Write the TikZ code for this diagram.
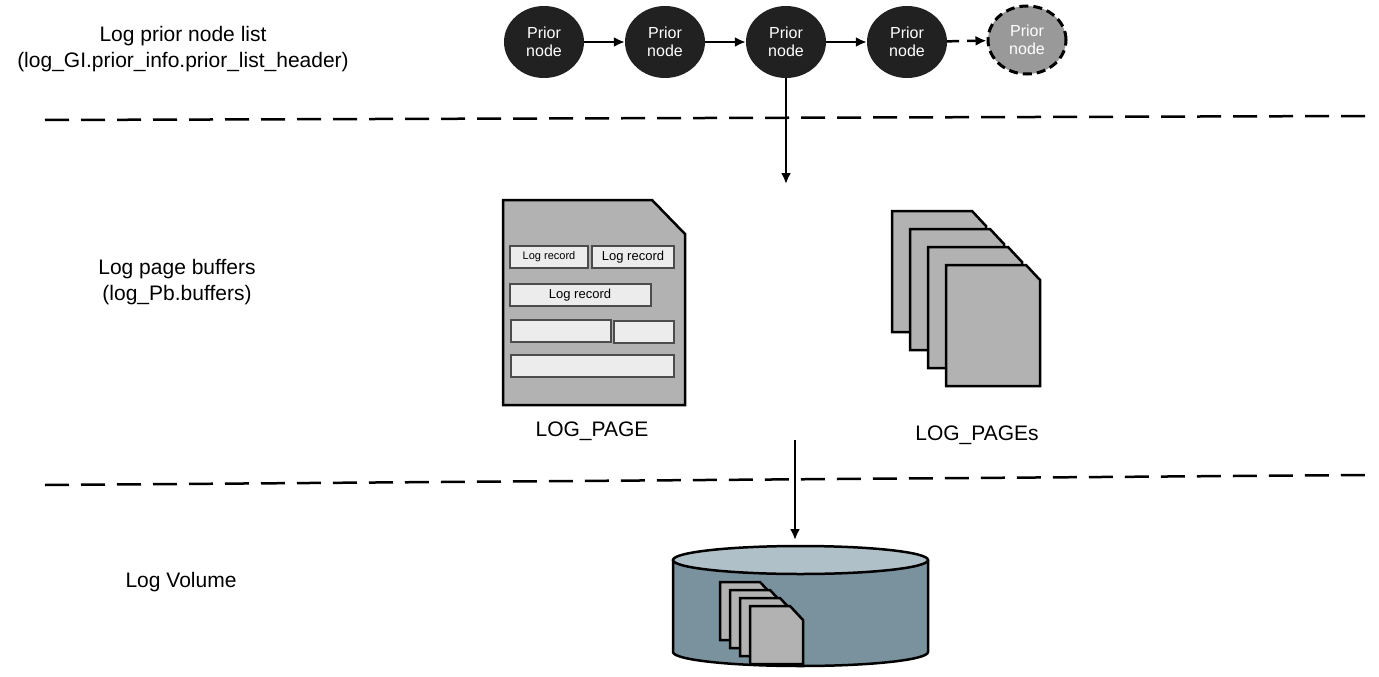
\documentclass[tikz,border=0pt]{standalone}
\usepackage{fontspec}
\setmainfont{Liberation Sans}
\usetikzlibrary{arrows.meta,shapes.geometric}
\begin{document}
\begin{tikzpicture}[x=1pt,y=-1pt,
  lbl/.style={font=\fontsize{21}{26}\selectfont,align=center},
  pn/.style={ellipse,draw=none,fill=black!87,minimum width=80,minimum height=72,text=white,font=\fontsize{16}{18}\selectfont,align=center,inner sep=0},
  arr/.style={line width=2.5pt,-{Latex[length=11pt,width=10pt]}},
  sep/.style={line width=2.5pt,dash pattern=on 24pt off 12pt},
  rec/.style={draw=black!70,line width=2pt,fill=gray!15,inner sep=0},
  pg/.style={draw=black,line width=2.5pt,fill=black!30,line join=miter}]
\useasboundingbox (0,0) rectangle (1379,677);
% left labels
\node[lbl] (t1) at (183,49) {Log prior node list\\(log\_GI.prior\_info.prior\_list\_header)};
\node[lbl] (t2) at (177,282) {Log page buffers\\(log\_Pb.buffers)};
\node[lbl] (t3) at (181,582) {Log Volume};
% separators
\coordinate (s1a) at (45,120); \coordinate (s1b) at (1365,116);
\coordinate (s2a) at (45,485); \coordinate (s2b) at (1365,475);
\draw[sep] (s1a) -- (s1b);
\draw[sep] (s2a) -- (s2b);
% prior nodes
\node[pn] (p1) at (544,42) {Prior\\node};
\node[pn] (p2) at (665,42) {Prior\\node};
\node[pn] (p3) at (786,42) {Prior\\node};
\node[pn] (p4) at (907,42) {Prior\\node};
\node[pn,fill=black!40,draw=black,line width=3pt,dash pattern=on 9pt off 5pt,minimum width=78,minimum height=68] (p5) at (1027,40) {Prior\\node};
\draw[arr] (p1) -- (p2);
\draw[arr] (p2) -- (p3);
\draw[arr] (p3) -- (p4);
\draw[arr,dash pattern=on 12pt off 8pt] (p4) -- (p5);
\coordinate (a1) at (786,184);
\draw[arr] (p3.south) -- (a1);
% log page
\draw[pg] (503,200) -- (652,200) -- (685,234) -- (685,405) -- (503,405) -- cycle;
\node[rec,minimum width=78,minimum height=22,font=\fontsize{11}{13}\selectfont] (r1) at (549,257) {Log record};
\node[rec,minimum width=82,minimum height=22,font=\fontsize{13}{15}\selectfont] (r2) at (633,257) {Log record};
\node[rec,minimum width=141,minimum height=22,font=\fontsize{13}{15}\selectfont] (r3) at (580,295) {Log record};
\node[rec,minimum width=100,minimum height=22] (r4) at (561,331) {};
\node[rec,minimum width=60,minimum height=22] (r5) at (644,332) {};
\node[rec,minimum width=163,minimum height=22] (r6) at (592,366) {};
\node[lbl] (lp) at (592,431) {LOG\_PAGE};
% page stack
\foreach \i in {0,1,2,3}{
  \draw[pg] ({892+18*\i},{211+18*\i}) -- ({972+18*\i},{211+18*\i}) -- ({986+18*\i},{226+18*\i}) -- ({986+18*\i},{332+18*\i}) -- ({892+18*\i},{332+18*\i}) -- cycle;
}
\node[lbl] (lps) at (977,435) {LOG\_PAGEs};
% arrow to volume
\coordinate (a2s) at (795,440);
\coordinate (a2e) at (795,540);
\draw[arr] (a2s) -- (a2e);
% cylinder
\draw[line width=2.5pt,fill={rgb,255:red,122;green,146;blue,158}] (673,560) -- (673,652) arc[start angle=180,end angle=0,x radius=127.5,y radius=14] -- (928,560);
\draw[line width=2.5pt,fill={rgb,255:red,176;green,192;blue,200}] (800.5,560) ellipse[x radius=127.5,y radius=14];
\foreach \i in {0,1,2,3}{
  \draw[draw=black,line width=2.5pt,fill=black!30] ({720+10*\i},{582+8*\i}) -- ({760+10*\i},{582+8*\i}) -- ({773+10*\i},{596+8*\i}) -- ({773+10*\i},{640+8*\i}) -- ({720+10*\i},{640+8*\i}) -- cycle;
}
\end{tikzpicture}
\end{document}
